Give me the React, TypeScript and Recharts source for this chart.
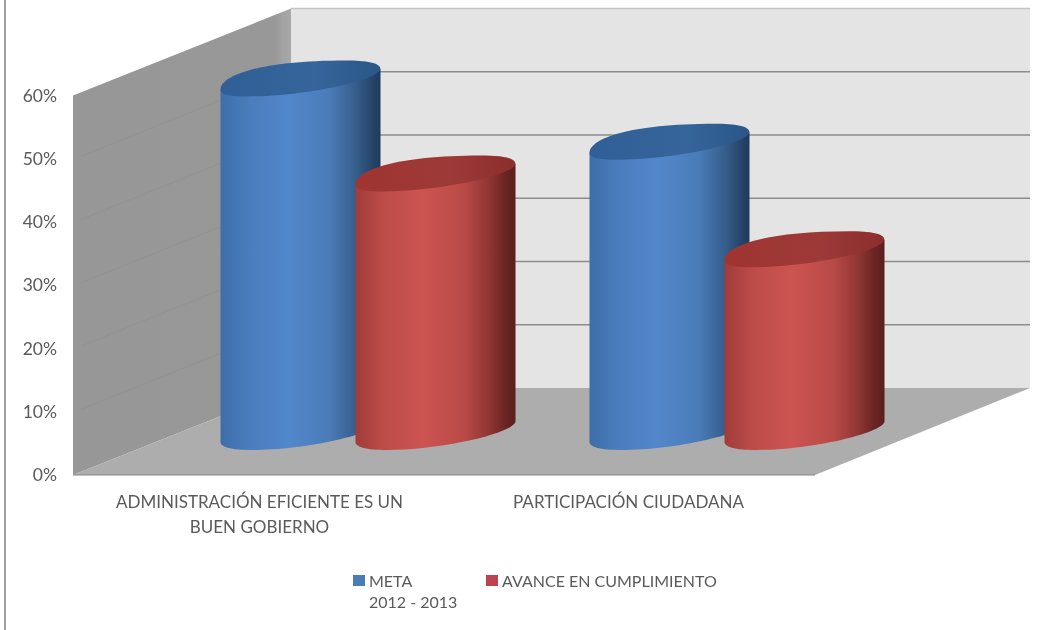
import React from 'react';
import { BarChart, Bar, XAxis, YAxis, Legend, Customized } from 'recharts';

const categories = ['ADMINISTRACIÓN EFICIENTE ES UN BUEN GOBIERNO', 'PARTICIPACIÓN CIUDADANA'];
const metaValues = [0.6, 0.5];
const avanceValues = [0.45, 0.33];
const yTicks = [0, 0.1, 0.2, 0.3, 0.4, 0.5, 0.6];
const metaName = 'META\n2012 - 2013';
const avanceName = 'AVANCE EN CUMPLIMIENTO';

const data = categories.map((name, i) => ({ name, meta: metaValues[i], avance: avanceValues[i] }));

const W = 1047, H = 630;
const PLOT = { left: 75, right: 813, top: 95.5, bottom: 475 };
const DEPTH = { dx: 216, dy: -87 };
const FONT = 'Lato, "Open Sans", sans-serif';
const TEXT = '#5a5a5a';

const wallY = (t: number) => PLOT.bottom + (PLOT.top - PLOT.bottom) * (t / 0.6);

function Walls() {
  const { left: l, right: r, bottom: b, top: t } = PLOT;
  const { dx, dy } = DEPTH;
  return (
    <g>
      <defs>
        <linearGradient id="cylBlue" x1="0" x2="1" y1="0" y2="0">
          <stop offset="0" stopColor="#3d6ea8" />
          <stop offset="0.18" stopColor="#4a7dbd" />
          <stop offset="0.42" stopColor="#5287cb" />
          <stop offset="0.68" stopColor="#4a7cb8" />
          <stop offset="0.84" stopColor="#375f8e" />
          <stop offset="0.95" stopColor="#264468" />
          <stop offset="1" stopColor="#1f3a5c" />
        </linearGradient>
        <linearGradient id="cylRed" x1="0" x2="1" y1="0" y2="0">
          <stop offset="0" stopColor="#a03c3a" />
          <stop offset="0.18" stopColor="#bd4c49" />
          <stop offset="0.42" stopColor="#cc5451" />
          <stop offset="0.68" stopColor="#b94a47" />
          <stop offset="0.84" stopColor="#8e3533" />
          <stop offset="0.93" stopColor="#6c2624" />
          <stop offset="1" stopColor="#5a1e1e" />
        </linearGradient>
        <linearGradient id="capBlue" x1="0" x2="1" y1="0" y2="0">
          <stop offset="0" stopColor="#2f5f96" />
          <stop offset="0.6" stopColor="#36659b" />
          <stop offset="1" stopColor="#2a5688" />
        </linearGradient>
        <linearGradient id="capRed" x1="0" x2="1" y1="0" y2="0">
          <stop offset="0" stopColor="#a03431" />
          <stop offset="0.6" stopColor="#9c3a38" />
          <stop offset="1" stopColor="#8c2e2c" />
        </linearGradient>
        <linearGradient id="sideWall" x1="0" x2="1" y1="0" y2="0">
          <stop offset="0" stopColor="#979797" />
          <stop offset="0.93" stopColor="#989898" />
          <stop offset="0.96" stopColor="#a3a3a3" />
          <stop offset="1" stopColor="#a8a8a8" />
        </linearGradient>
      </defs>
      <line x1={5} y1={0} x2={5} y2={H} stroke="#808080" strokeWidth={1.5} />
      <polygon points={`${l + dx},${t + dy} ${W - 17},${t + dy} ${W - 17},${b + dy} ${l + dx},${b + dy}`} fill="#e4e4e4" />
      <line x1={l + dx} y1={t + dy} x2={W - 17} y2={t + dy} stroke="#c4c4c4" strokeWidth={1.5} />
      <polygon points={`${l - 2},${t} ${l + dx},${t + dy} ${l + dx},${b + dy} ${l - 2},${b}`} fill="url(#sideWall)" />
      <polygon points={`${l - 2},${b} ${l + dx},${b + dy} ${W - 17},${b + dy} ${r + 2},${b}`} fill="#adadad" />
      <line x1={l - 2} y1={b} x2={r + 2} y2={b} stroke="#858585" strokeWidth={1.2} />
      {yTicks.slice(1, -1).map((v) => (
        <g key={v}>
          <line x1={l + dx} y1={wallY(v) + dy} x2={W - 17} y2={wallY(v) + dy} stroke="#8c8c8c" strokeWidth={1.3} />
          <line x1={l + 6} y1={wallY(v) - 2.4} x2={l + dx} y2={wallY(v) + dy} stroke="#8c8c8c" strokeWidth={1} strokeOpacity={0.55} />
        </g>
      ))}
    </g>
  );
}

const lowerArc = (x: number, y: number) =>
  `C ${x + 155} ${y - 8}, ${x + 80} ${y + 7}, ${x + 28} ${y + 7} C ${x + 8} ${y + 7}, ${x} ${y + 5}, ${x} ${y}`;

function Cylinder(props: any) {
  const { x, y, height, grad, cap } = props;
  const left = x + 95.5;
  const w = 160;
  const top = y - 6;
  const bottom = y + height - 33;
  const body = `M ${left} ${top} L ${left} ${bottom} C ${left} ${bottom + 5}, ${left + 10} ${bottom + 8}, ${left + 32} ${bottom + 8} C ${left + 85} ${bottom + 8}, ${left + 155} ${bottom - 8}, ${left + w} ${bottom - 20} L ${left + w} ${top - 20} Z`;
  const capPath = `M ${left} ${top} C ${left} ${top - 14}, ${left + 40} ${top - 29}, ${left + 125} ${top - 29} C ${left + 146} ${top - 29}, ${left + w} ${top - 27}, ${left + w} ${top - 20} ${lowerArc(left, top)} Z`;
  return (
    <g>
      <path d={body} fill={`url(#${grad})`} />
      <path d={capPath} fill={`url(#${cap})`} />
    </g>
  );
}

function wrapLabel(text: string, max: number) {
  const lines: string[] = [];
  let cur = '';
  text.split(' ').forEach((word) => {
    const next = cur ? `${cur} ${word}` : word;
    if (next.length > max) {
      lines.push(cur);
      cur = word;
    } else cur = next;
  });
  if (cur) lines.push(cur);
  return lines;
}

function XTick(props: any) {
  const { x, payload } = props;
  return (
    <text x={x} y={508} textAnchor="middle" fontFamily={FONT} fontSize={17} fill={TEXT}>
      {wrapLabel(payload.value, 30).map((line, i) => (
        <tspan key={i} x={x} dy={i === 0 ? 0 : 24.5}>
          {line}
        </tspan>
      ))}
    </text>
  );
}

function LegendBox(props: any) {
  const items = props.payload || [];
  return (
    <div style={{ display: 'flex', fontFamily: FONT, fontSize: 16, color: TEXT, lineHeight: '21px' }}>
      {items.map((it: any, i: number) => (
        <div key={i} style={{ display: 'flex', alignItems: 'flex-start', width: i === 0 ? 133 : 240 }}>
          <span style={{ width: 12, height: 11, marginTop: 5, marginRight: 4, background: it.color, flex: 'none' }} />
          <span style={{ whiteSpace: 'pre' }}>{it.value}</span>
        </div>
      ))}
    </div>
  );
}

export default function App() {
  return (
    <div style={{ position: 'absolute', left: 0, top: 0, width: W, height: H, background: '#fff', filter: 'blur(0.5px)' }}>
      <BarChart
        width={W}
        height={H}
        data={data}
        barSize={135}
        barGap={0}
        barCategoryGap={0}
        margin={{ top: PLOT.top, right: W - PLOT.right, bottom: H - PLOT.bottom - 60, left: 0 }}
      >
        <Customized component={Walls} />
        <XAxis dataKey="name" height={60} axisLine={false} tickLine={false} interval={0} tick={<XTick />} />
        <YAxis
          width={PLOT.left}
          domain={[0, 0.6]}
          ticks={yTicks}
          axisLine={false}
          tickLine={false}
          tickSize={0}
          tickMargin={18}
          tickFormatter={(v: number) => `${Math.round(v * 100)}%`}
          tick={{ fontFamily: FONT, fontSize: 17.5, fill: TEXT }}
        />
        <Bar dataKey="meta" name={metaName} fill="#4a7db5" isAnimationActive={false} shape={<Cylinder grad="cylBlue" cap="capBlue" />} />
        <Bar dataKey="avance" name={avanceName} fill="#bb4450" isAnimationActive={false} shape={<Cylinder grad="cylRed" cap="capRed" />} />
        <Legend
          layout="horizontal"
          verticalAlign="middle"
          align="center"
          itemSorter={null}
          content={<LegendBox />}
          wrapperStyle={{ position: 'absolute', left: 353, top: 570, width: 400, height: 44, bottom: 'auto', right: 'auto' }}
        />
      </BarChart>
    </div>
  );
}
